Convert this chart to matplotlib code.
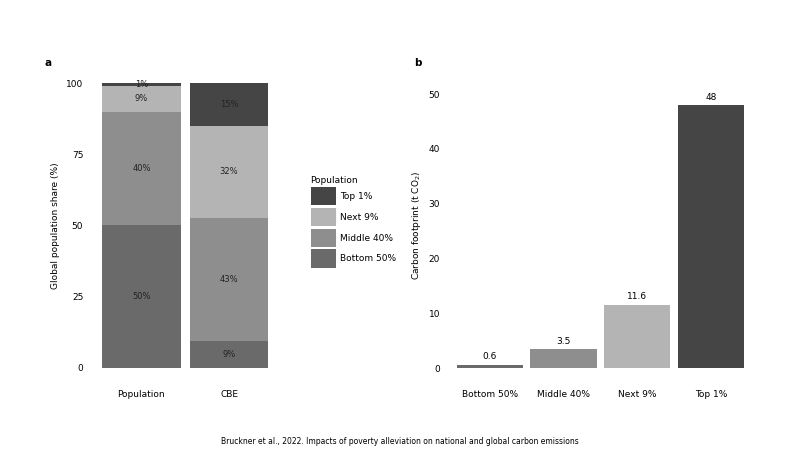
import matplotlib.pyplot as plt
from matplotlib.patches import Patch

# panel a: shares (%) by population group
groups = ["Bottom 50%", "Middle 40%", "Next 9%", "Top 1%"]
bars_a = ["Population", "CBE"]
pop_share = [50, 40, 9, 1]
cbe_share = [9.3, 43.4, 32.4, 14.9]

# panel b: per-capita carbon footprint (t CO2)
footprint = [0.6, 3.5, 11.6, 48]
footprint_labels = ["0.6", "3.5", "11.6", "48"]

colors = {"Bottom 50%": "#6a6a6a", "Middle 40%": "#8e8e8e",
          "Next 9%": "#b4b4b4", "Top 1%": "#454545"}

plt.rcParams['font.family'] = ['DejaVu Sans']
fig = plt.figure(figsize=(8, 4.5), dpi=100)
ax_a = fig.add_axes([0.111, 0.151, 0.241, 0.696])
ax_b = fig.add_axes([0.557, 0.151, 0.387, 0.696])

# stacked bars for panel a
for i, shares in enumerate([pop_share, cbe_share]):
    bottom = 0
    for g, s in zip(groups, shares):
        ax_a.bar(i, s, bottom=bottom, width=0.9, color=colors[g])
        ax_a.text(i, bottom + s / 2, f"{round(s)}%", ha='center', va='center',
                  fontsize=6, color='#222222')
        bottom += s

ax_a.set_xlim(-0.6, 1.6)
ax_a.set_ylim(-5, 105)
ax_a.set_xticks(range(len(bars_a)))
ax_a.set_xticklabels(bars_a)
ax_a.set_yticks([0, 25, 50, 75, 100])
ax_a.set_ylabel("Global population share (%)", fontsize=6.5)

# panel b bars
x = range(len(groups))
ax_b.bar(x, footprint, width=0.9, color=[colors[g] for g in groups])
for xi, v, lab in zip(x, footprint, footprint_labels):
    ax_b.text(xi, v + 0.6, lab, ha='center', va='bottom', fontsize=6.5)
ax_b.set_xlim(-0.6, 3.6)
ax_b.set_ylim(-2.55, 54.6)
ax_b.set_xticks(list(x))
ax_b.set_xticklabels(groups)
ax_b.set_yticks([0, 10, 20, 30, 40, 50])
ax_b.set_ylabel("Carbon footprint (t CO$_2$)", fontsize=6.5)

for ax in (ax_a, ax_b):
    for sp in ax.spines.values():
        sp.set_visible(False)
    ax.tick_params(length=0, labelsize=6.5, pad=4)
    ax.tick_params(axis='x', pad=6)

fig.text(0.056, 0.853, "a", fontsize=7.5, fontweight='bold')
fig.text(0.518, 0.853, "b", fontsize=7.5, fontweight='bold')

handles = [Patch(facecolor=colors[g], label=g) for g in groups[::-1]]
fig.legend(handles=handles, title="Population", loc='upper left',
           bbox_to_anchor=(0.378, 0.628), frameon=False, fontsize=6.5,
           title_fontsize=6.5, handlelength=2.8, handleheight=2.8,
           labelspacing=0.25, handletextpad=0.5, alignment='left')

fig.text(0.5, 0.013, "Bruckner et al., 2022. Impacts of poverty alleviation on "
         "national and global carbon emissions", ha='center', fontsize=5.5)

fig.savefig("out.png", dpi=100)
